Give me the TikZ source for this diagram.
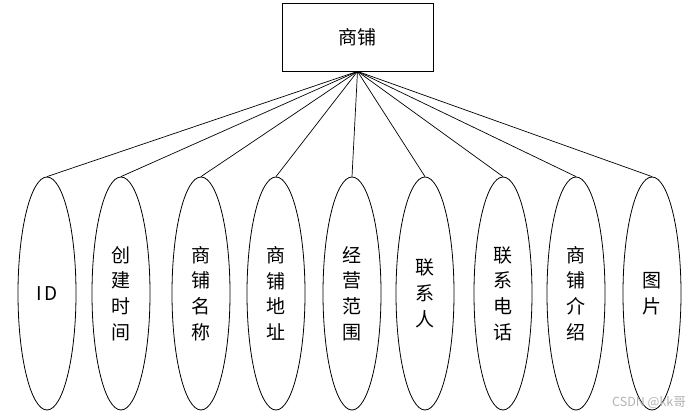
\documentclass[tikz,border=0pt]{standalone}
\usepackage{fontspec}
\setmainfont{Noto Sans CJK SC}
\usetikzlibrary{shapes.geometric}
\begin{document}
\begin{tikzpicture}[x=1pt,y=-1pt,
  ent/.style={draw, line width=0.8pt, minimum width=151pt, minimum height=68pt, inner sep=0pt, font=\fontsize{19}{25.7}\selectfont},
  attr/.style={draw, ellipse, line width=0.8pt, minimum width=58pt, minimum height=233pt, inner sep=0pt, align=center, font=\fontsize{19}{25.7}\selectfont},
  link/.style={line width=0.7pt}]
\useasboundingbox (0,0) rectangle (696,417);
\node[ent] (top) at (357.5,37) {商铺};
\node[attr] (a1) at (47,293.5) {I\hspace{2.5pt}D};
\node[attr] (a2) at (121,293.5) {创\\建\\时\\间};
\node[attr] (a3) at (201,293.5) {商\\铺\\名\\称};
\node[attr] (a4) at (276,293.5) {商\\铺\\地\\址};
\node[attr] (a5) at (352,293.5) {经\\营\\范\\围};
\node[attr] (a6) at (425,293.5) {联\\系\\人};
\node[attr] (a7) at (503,293.5) {联\\系\\电\\话};
\node[attr] (a8) at (576,293.5) {商\\铺\\介\\绍};
\node[attr] (a9) at (652,293.5) {图\\片};
\foreach \i in {1,...,9}{\draw[link] (top.south) -- (a\i.north);}
\node[text=black!30, font=\fontsize{12.5}{13}\selectfont, anchor=east, inner sep=0pt] (wm) at (686,403) {CSDN @kk哥};
\end{tikzpicture}
\end{document}
